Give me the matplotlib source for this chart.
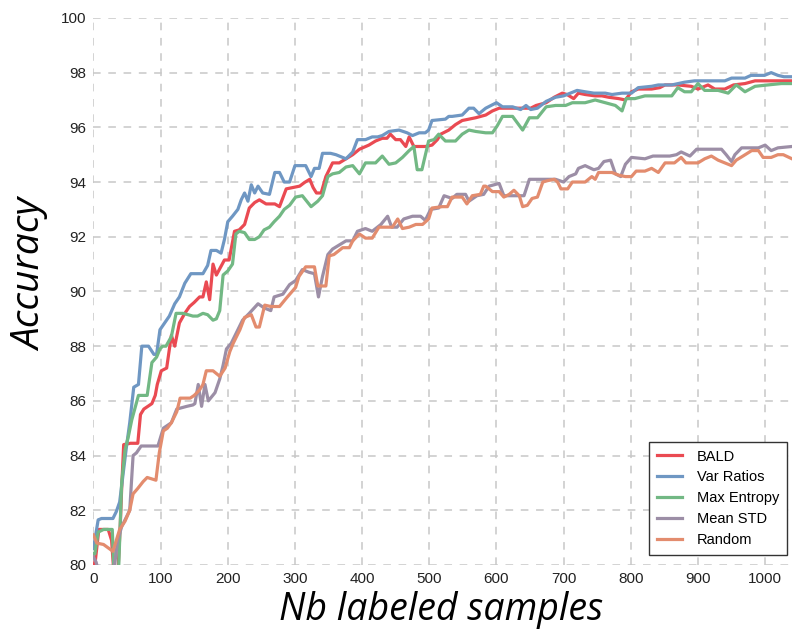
import matplotlib
matplotlib.use("Agg")
import matplotlib.pyplot as plt

plt.rcParams['font.family'] = ['Liberation Sans', 'DejaVu Sans']

# one (x, y) list per method
bald_x = [0, 3, 8, 15, 22, 27, 31, 36, 40, 42, 45, 55, 66, 70, 75, 87, 92, 95, 101, 109, 116, 121, 128,
          136, 143, 150, 158, 163, 168, 173, 178, 183, 195, 202, 210, 217, 225, 232, 240, 247, 257, 270,
          277, 287, 297, 307, 314, 322, 327, 332, 339, 346, 356, 366, 376, 386, 396, 410, 420, 430, 437,
          442, 450, 457, 465, 470, 477, 494, 504, 512, 517, 529, 539, 549, 559, 569, 584, 594, 604, 624,
          639, 651, 659, 674, 686, 698, 705, 715, 722, 732, 747, 757, 767, 782, 792, 801, 811, 831, 843,
          851, 870, 890, 900, 915, 925, 940, 953, 970, 985, 1004, 1019, 1040]
bald_y = [79.9, 80.2, 81.3, 81.3, 81.3, 80.9, 79.5, 79.5, 81.5, 82.8, 84.4, 84.45, 84.45, 85.5, 85.7, 85.9,
          86.2, 86.6, 87.1, 87.2, 88.4, 88.0, 88.85, 89.2, 89.45, 89.6, 89.8, 89.8, 90.35, 89.7, 91.0, 90.6,
          91.15, 91.15, 92.2, 92.25, 92.45, 93.05, 93.25, 93.35, 93.2, 93.2, 93.1, 93.75, 93.8, 93.85, 93.98,
          94.1, 93.8, 93.6, 93.6, 94.2, 94.7, 94.7, 94.85, 95.0, 95.2, 95.35, 95.5, 95.6, 95.6, 95.75, 95.55,
          95.55, 95.3, 95.65, 95.3, 95.3, 95.35, 95.55, 95.75, 95.9, 96.1, 96.25, 96.3, 96.35, 96.45, 96.6,
          96.7, 96.7, 96.7, 96.7, 96.8, 96.9, 97.1, 97.25, 97.2, 97.05, 97.25, 97.2, 97.15, 97.15, 97.1,
          97.05, 97.0, 97.3, 97.4, 97.4, 97.45, 97.55, 97.55, 97.5, 97.4, 97.55, 97.4, 97.4, 97.55, 97.6,
          97.7, 97.7, 97.7, 97.7]

var_x = [0, 7, 12, 29, 34, 39, 44, 49, 54, 60, 67, 72, 82, 90, 94, 99, 106, 113, 121, 128, 136, 145, 163,
         170, 175, 183, 190, 195, 200, 207, 215, 220, 225, 230, 235, 240, 245, 252, 262, 270, 277, 284, 292,
         300, 316, 324, 329, 336, 341, 353, 361, 376, 386, 393, 405, 415, 423, 430, 440, 455, 467, 475, 485,
         494, 499, 504, 524, 529, 534, 549, 559, 566, 574, 584, 600, 609, 624, 636, 644, 651, 661, 674, 688,
         700, 710, 720, 732, 745, 762, 772, 787, 801, 811, 831, 841, 861, 880, 895, 920, 940, 950, 970, 979,
         999, 1009, 1019, 1028, 1040]
var_y = [80.6, 81.65, 81.7, 81.7, 81.95, 82.3, 83.3, 84.3, 85.2, 86.5, 86.6, 88.0, 88.0, 87.7, 87.7, 88.6,
         88.85, 89.1, 89.55, 89.8, 90.3, 90.65, 90.65, 90.95, 91.5, 91.5, 91.4, 91.9, 92.55, 92.75, 93.0,
         93.35, 93.6, 93.3, 93.9, 93.6, 93.85, 93.6, 93.55, 94.35, 94.35, 94.0, 94.0, 94.6, 94.6, 94.2,
         94.5, 94.5, 95.05, 95.05, 95.0, 94.85, 95.1, 95.55, 95.55, 95.65, 95.65, 95.7, 95.85, 95.9, 95.8,
         95.7, 95.8, 95.8, 95.9, 96.25, 96.3, 96.4, 96.4, 96.45, 96.7, 96.7, 96.5, 96.7, 96.9, 96.75, 96.75,
         96.65, 96.8, 96.65, 96.7, 96.95, 97.1, 97.15, 97.25, 97.35, 97.3, 97.25, 97.25, 97.2, 97.25, 97.25,
         97.45, 97.5, 97.55, 97.55, 97.65, 97.7, 97.7, 97.7, 97.8, 97.8, 97.9, 97.9, 98.0, 97.9, 97.85, 97.85]

ent_x = [0, 2, 7, 15, 28, 31, 37, 42, 47, 52, 57, 67, 80, 87, 94, 99, 103, 108, 116, 123, 133, 141, 148,
         155, 163, 170, 178, 183, 188, 193, 200, 207, 212, 217, 225, 232, 240, 247, 254, 262, 269, 277, 284,
         292, 301, 311, 324, 334, 341, 349, 356, 366, 376, 386, 396, 405, 420, 430, 440, 450, 460, 470, 477,
         482, 489, 499, 507, 514, 524, 539, 549, 559, 569, 584, 594, 601, 609, 624, 639, 649, 661, 674, 688,
         703, 713, 732, 747, 762, 777, 787, 793, 806, 821, 841, 861, 870, 880, 890, 900, 910, 930, 945, 957,
         970, 985, 1004, 1024, 1040]
ent_y = [80.4, 80.4, 81.2, 81.3, 81.3, 79.5, 79.5, 83.0, 84.2, 84.7, 85.3, 86.2, 86.2, 87.4, 87.6, 87.9,
         88.0, 88.0, 88.35, 89.2, 89.2, 89.15, 89.1, 89.1, 89.2, 89.15, 88.95, 89.0, 89.3, 90.6, 90.75, 91.0,
         92.1, 92.2, 92.15, 91.9, 91.9, 92.0, 92.25, 92.35, 92.55, 92.75, 93.0, 93.15, 93.45, 93.5, 93.1,
         93.3, 93.5, 94.2, 94.3, 94.35, 94.55, 94.6, 94.3, 94.7, 94.7, 94.95, 94.65, 94.7, 94.9, 95.15, 95.3,
         94.45, 94.45, 95.5, 95.55, 95.75, 95.5, 95.5, 95.75, 95.9, 95.85, 95.8, 95.8, 96.05, 96.4, 96.4,
         95.9, 96.35, 96.35, 96.75, 96.8, 96.8, 96.9, 96.9, 97.0, 96.9, 96.8, 96.6, 97.05, 97.05, 97.15,
         97.15, 97.15, 97.45, 97.3, 97.3, 97.6, 97.35, 97.35, 97.25, 97.55, 97.3, 97.5, 97.55, 97.6, 97.6]

std_x = [0, 4, 8, 30, 36, 42, 49, 54, 59, 64, 71, 96, 104, 110, 116, 124, 139, 148, 151, 156, 161, 166, 171,
         181, 188, 193, 198, 205, 213, 222, 232, 245, 254, 264, 269, 282, 292, 301, 311, 321, 329, 335, 341,
         349, 356, 366, 376, 386, 393, 405, 415, 428, 438, 444, 452, 462, 475, 487, 494, 502, 514, 522, 534,
         541, 554, 559, 571, 581, 589, 604, 611, 624, 641, 649, 688, 700, 708, 718, 722, 732, 745, 752, 760,
         770, 777, 785, 792, 801, 821, 833, 858, 868, 875, 888, 898, 935, 942, 950, 955, 965, 990, 1000, 1009,
         1019, 1040]
std_y = [80.3, 80.1, 79.7, 79.7, 80.9, 81.4, 81.75, 82.0, 84.0, 84.1, 84.35, 84.35, 85.0, 85.1, 85.2, 85.7,
         85.8, 85.85, 85.9, 86.6, 85.8, 86.6, 86.0, 86.3, 86.8, 87.3, 87.9, 88.1, 88.5, 88.95, 89.2, 89.55,
         89.4, 89.3, 89.8, 89.9, 90.25, 90.4, 90.8, 90.7, 90.65, 89.8, 90.55, 91.35, 91.55, 91.7, 91.85,
         91.85, 92.2, 92.3, 92.2, 92.45, 92.75, 92.35, 92.35, 92.65, 92.75, 92.75, 92.6, 93.0, 93.05, 93.5,
         93.4, 93.55, 93.55, 93.3, 93.5, 93.55, 93.85, 93.95, 93.5, 93.5, 93.5, 94.1, 94.1, 94.0, 94.2, 94.3,
         94.5, 94.6, 94.45, 94.5, 94.75, 94.8, 94.3, 94.2, 94.65, 94.9, 94.85, 94.95, 94.95, 95.0, 95.1,
         94.95, 95.2, 95.2, 95.0, 94.75, 95.0, 95.25, 95.25, 95.35, 95.15, 95.25, 95.3]

rnd_x = [0, 5, 15, 29, 34, 39, 47, 54, 59, 66, 74, 80, 93, 98, 104, 110, 116, 124, 129, 144, 150, 158, 163,
         168, 178, 188, 196, 203, 208, 218, 225, 235, 242, 247, 255, 264, 277, 287, 301, 306, 316, 329, 334,
         346, 351, 358, 371, 381, 386, 396, 405, 415, 425, 445, 453, 460, 470, 480, 490, 499, 504, 519, 527,
         534, 549, 556, 564, 576, 581, 584, 594, 604, 611, 619, 626, 634, 639, 646, 653, 661, 669, 676, 686,
         691, 696, 706, 713, 732, 742, 747, 752, 772, 782, 792, 801, 808, 821, 831, 841, 851, 865, 875, 882,
         900, 910, 920, 930, 950, 957, 967, 980, 990, 997, 1009, 1019, 1027, 1040]
rnd_y = [81.1, 80.8, 80.75, 80.5, 80.9, 81.3, 81.6, 82.0, 82.6, 82.8, 83.05, 83.2, 83.1, 84.1, 84.9, 85.0,
         85.2, 85.6, 86.1, 86.1, 86.2, 86.4, 86.6, 87.1, 87.1, 86.9, 87.2, 87.8, 88.1, 88.6, 89.05, 89.15,
         88.7, 88.7, 89.5, 89.45, 89.45, 89.75, 90.15, 90.55, 90.9, 90.9, 90.2, 90.2, 91.3, 91.35, 91.6, 91.6,
         91.85, 92.1, 91.95, 91.95, 92.35, 92.35, 92.65, 92.3, 92.35, 92.45, 92.45, 92.65, 93.05, 93.1, 93.1,
         93.45, 93.45, 93.2, 93.5, 93.55, 93.85, 93.85, 93.65, 93.65, 93.45, 93.55, 93.7, 93.5, 93.1, 93.15,
         93.4, 93.45, 94.0, 94.05, 94.1, 94.0, 93.75, 93.75, 94.0, 94.0, 94.2, 94.1, 94.35, 94.35, 94.25,
         94.2, 94.2, 94.4, 94.4, 94.5, 94.35, 94.7, 94.7, 94.9, 94.7, 94.7, 94.85, 94.95, 94.8, 94.6, 94.8,
         94.95, 95.15, 95.15, 94.9, 94.9, 95.0, 95.0, 94.85]

labels = ['BALD', 'Var Ratios', 'Max Entropy', 'Mean STD', 'Random']
colors = ['#ea4a52', '#6f97c3', '#72b884', '#9c8ea6', '#e38c6e']
series = [(bald_x, bald_y), (var_x, var_y), (ent_x, ent_y), (std_x, std_y), (rnd_x, rnd_y)]

fig = plt.figure(figsize=(7.92, 6.31), dpi=100)
ax = fig.add_axes([0.118, 0.1046, 0.882, 0.867])

for (xs, ys), lab, c in zip(series, labels, colors):
    ax.plot(xs, ys, color=c, lw=2.3, label=lab)

ax.set_xlim(0, 1040)
ax.set_ylim(80, 100)
ax.set_xticks(range(0, 1001, 100))
ax.set_yticks(range(80, 101, 2))
ax.grid(True, color='#c8c8c8', linestyle=(0, (5, 5)), lw=1.1)
ax.set_axisbelow(True)
for s in ax.spines.values():
    s.set_visible(False)
ax.tick_params(length=0, labelsize=11, pad=5, colors='#222222')

leg = ax.legend(loc='lower right', bbox_to_anchor=(787 / 792, (631 - 555) / 631),
                bbox_transform=fig.transFigure, fontsize=10.5, fancybox=False,
                edgecolor='#333333', framealpha=1, borderaxespad=0, borderpad=0.55,
                handlelength=1.7, handletextpad=1.0, labelspacing=0.47)
leg.get_frame().set_linewidth(1.0)

# axis titles sit a little apart from the ticks, in a Calibri-like italic
fig.text(441 / 792, 1 - 620 / 631, 'Nb labeled samples', ha='center', va='baseline',
         fontsize=27, style='italic', family='Open Sans')
fig.text(31 / 792, 1 - 275 / 631, 'Accuracy', ha='center', va='center', rotation=90,
         fontsize=28, style='italic', family='Open Sans')

fig.savefig('out.png', dpi=100)
